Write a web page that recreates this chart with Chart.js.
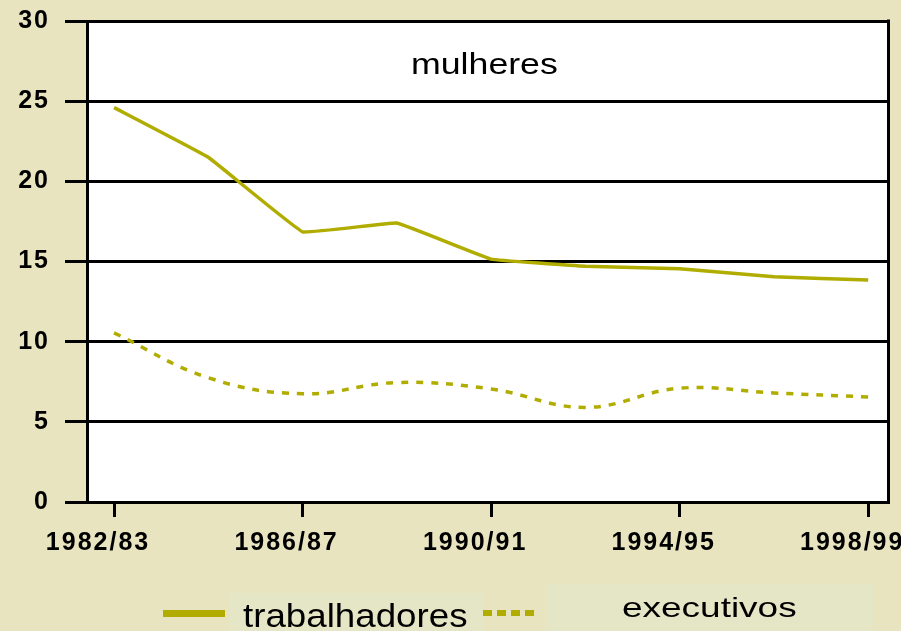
<!DOCTYPE html>
<html>
<head>
<meta charset="utf-8">
<script src="https://cdn.jsdelivr.net/npm/chart.js@4"></script>
<style>
body{margin:0;background:#e8e4c0;font-family:"Liberation Sans",Arial,sans-serif}
#wrap{position:relative;width:901px;height:631px;overflow:hidden}
.txt{position:absolute;white-space:nowrap;color:#000;transform-origin:left top}
.box{position:absolute;background:#e5e6c6}
</style>
</head>
<body>
<div id="wrap">
  <div class="box" style="left:230px;top:593px;width:253px;height:38px"></div>
  <div class="box" style="left:545px;top:584px;width:328px;height:47px"></div>
  <canvas id="graph" width="901" height="631" style="position:absolute;left:0;top:0"></canvas>
  <div class="txt" id="title" style="left:411px;top:49px;font-size:30px;line-height:30px;transform:scaleX(1.19)">mulheres</div>
  <div style="position:absolute;left:163px;top:610px;width:62px;height:7px;background:#b0ad00"></div>
  <div class="txt" style="left:243px;top:598px;font-size:34px;line-height:34px;transform:scaleX(1.08)">trabalhadores</div>
  <div style="position:absolute;left:483px;top:610px;width:53px;height:6px;background:repeating-linear-gradient(to right,#b0ad00 0 9px,transparent 9px 14px)"></div>
  <div class="txt" style="left:622px;top:594px;font-size:28px;line-height:28px;transform:scaleX(1.32)">executivos</div>
</div>
<script>
const years=['1982/83','1984/85','1986/87','1988/89','1990/91','1992/93','1994/95','1996/97','1998/99']
const labeledYears=[0,2,4,6,8]
const trabalhadores=[24.6,21.5,16.85,17.4,15.15,14.7,14.55,14.05,13.85]
const executivos=[10.55,7.75,6.75,7.45,7.05,5.9,7.1,6.8,6.55]
const yTicks=[0,5,10,15,20,25,30]
const olive='#b0ad00'

Chart.defaults.font.family='"Liberation Sans", Arial, sans-serif'

// white plot area, wider tick lettering, right border line
const frame={
    id:'frame',
    beforeDraw(chart){
        const a=chart.chartArea, ctx=chart.ctx
        ctx.letterSpacing='2px'
        ctx.save()
        ctx.fillStyle='#fff'
        ctx.fillRect(a.left,a.top,a.right-a.left,a.bottom-a.top)
        ctx.restore()
    },
    afterDraw(chart){
        const a=chart.chartArea, ctx=chart.ctx
        ctx.save()
        ctx.strokeStyle='#000'
        ctx.lineWidth=3
        ctx.beginPath()
        ctx.moveTo(a.right+0.5,a.top-1.5)
        ctx.lineTo(a.right+0.5,a.bottom+1.5)
        ctx.stroke()
        ctx.restore()
    }
}

function pts(arr){
    return arr.map((v,i)=>({x:i,y:v}))
}

new Chart('graph',{
    type:'line',
    data:{
        datasets:[{
            label:'trabalhadores',
            data:pts(trabalhadores),
            borderColor:olive,
            borderWidth:3.5,
            pointRadius:0,
            tension:0.06,
            fill:false
        },{
            label:'executivos',
            data:pts(executivos),
            borderColor:olive,
            borderWidth:3.5,
            borderDash:[7,8],
            pointRadius:0,
            tension:0.4,
            fill:false
        }]
    },
    plugins:[frame],
    options:{
        responsive:false,
        animation:false,
        layout:{padding:{top:21,right:13,left:0,bottom:69}},
        plugins:{
            legend:{display:false},
            tooltip:{enabled:false}
        },
        scales:{
            x:{
                type:'linear',
                min:-0.287,
                max:8.21,
                afterBuildTicks:s=>{s.ticks=labeledYears.map(v=>({value:v}))},
                afterFit:s=>{s.height=60;s.paddingLeft=0;s.paddingRight=0},
                grid:{drawOnChartArea:false,color:'#000',lineWidth:3,tickLength:15},
                border:{color:'#000',width:3},
                ticks:{
                    color:'#000',
                    padding:11,
                    labelOffset:-16,
                    maxRotation:0,
                    autoSkip:false,
                    font:{size:25,weight:'bold'},
                    callback:v=>years[v]
                }
            },
            y:{
                min:0,
                max:30,
                afterBuildTicks:s=>{s.ticks=yTicks.map(v=>({value:v}))},
                afterFit:s=>{s.width=87;s.paddingTop=0;s.paddingBottom=0},
                grid:{color:'#000',lineWidth:3,tickLength:22},
                border:{color:'#000',width:3},
                ticks:{
                    color:'#000',
                    padding:15,
                    font:{size:25,weight:'bold'}
                }
            }
        }
    }
})
</script>
</body>
</html>
